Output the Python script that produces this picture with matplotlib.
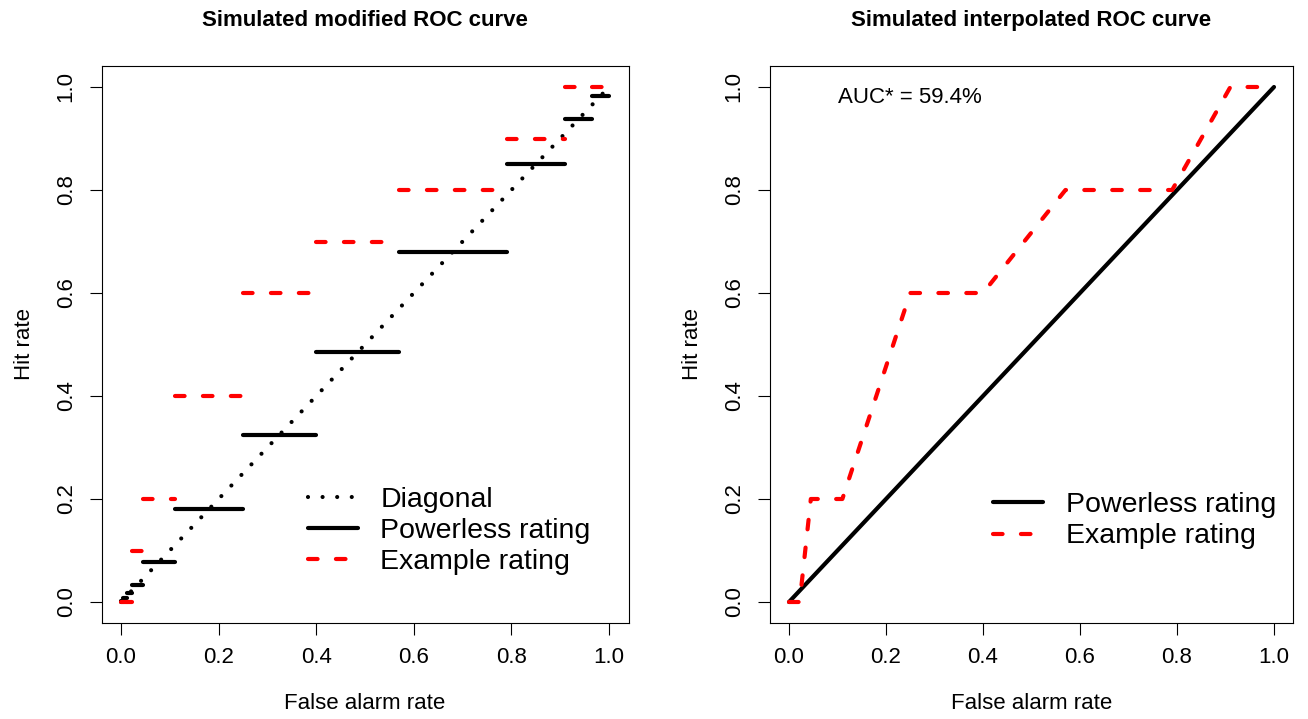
import matplotlib
matplotlib.use("Agg")
import matplotlib.pyplot as plt
from matplotlib.lines import Line2D

plt.rcParams['font.family'] = ['Liberation Sans', 'DejaVu Sans']

# ---- data ----
# cumulative false alarm rate at class boundaries
far_bounds = [0.0, 0.005, 0.012, 0.022, 0.045, 0.11, 0.25, 0.40, 0.57, 0.79, 0.91, 0.965, 1.0]
# modified ROC: hit-rate level per class (one per interval)
powerless_mod_hit = [0.0025, 0.0085, 0.017, 0.0335, 0.0775, 0.18, 0.325, 0.485, 0.68, 0.85, 0.9375, 0.9825]
example_mod_hit = [0.0, 0.0, 0.0, 0.1, 0.2, 0.4, 0.6, 0.7, 0.8, 0.9, 1.0, 1.0]
# interpolated ROC: cumulative hit rate at class boundaries
example_hit_bounds = [0.0, 0.0, 0.0, 0.0, 0.2, 0.2, 0.6, 0.6, 0.8, 0.8, 1.0, 1.0, 1.0]
powerless_hit_bounds = [0.0, 1.0]
powerless_far_bounds = [0.0, 1.0]
auc_text = "AUC* = 59.4%"
ticks = [0.0, 0.2, 0.4, 0.6, 0.8, 1.0]
tick_labels = ["0.0", "0.2", "0.4", "0.6", "0.8", "1.0"]

W, H = 1308, 719
fig = plt.figure(figsize=(W / 100, H / 100), dpi=100)

def px_axes(x0, x1, y0, y1):
    return fig.add_axes([x0 / W, 1 - y1 / H, (x1 - x0) / W, (y1 - y0) / H])

ax1 = px_axes(101.5, 628.5, 66.4, 622.6)
ax2 = px_axes(769.6, 1293.4, 66.4, 622.6)

LW = 3.0
dot_style = (0, (0.001, 3.5))
dash_style = (0, (2.3, 4.4))

for ax in (ax1, ax2):
    ax.set_xlim(-0.04, 1.04)
    ax.set_ylim(-0.04, 1.04)
    ax.set_xticks(ticks)
    ax.set_xticklabels(tick_labels)
    ax.set_yticks(ticks)
    ax.set_yticklabels(tick_labels, rotation=90, va='center')
    ax.tick_params(direction='out', length=8.4, width=0.8, labelsize=16, pad=9.5, colors='black')
    for s in ax.spines.values():
        s.set_linewidth(0.8)
        s.set_color('black')
    ax.set_xlabel("False alarm rate", fontsize=16, labelpad=18)
    ax.set_ylabel("Hit rate", fontsize=16, labelpad=15)

# ---- left: modified ROC ----
ax1.plot([0, 1], [0, 1], color='black', lw=LW, linestyle=dot_style,
         dash_capstyle='round', solid_capstyle='round')
for i in range(len(powerless_mod_hit)):
    ax1.plot([far_bounds[i], far_bounds[i + 1]], [powerless_mod_hit[i]] * 2,
             color='black', lw=LW, solid_capstyle='round')
for i in range(len(example_mod_hit)):
    ax1.plot([far_bounds[i], far_bounds[i + 1]], [example_mod_hit[i]] * 2,
             color='red', lw=LW, linestyle=dash_style, dash_capstyle='round')
ax1.set_title("Simulated modified ROC curve", fontsize=16, fontweight='bold', pad=29)

h1 = [Line2D([], [], color='black', lw=LW, linestyle=dot_style, dash_capstyle='round'),
      Line2D([], [], color='black', lw=LW, solid_capstyle='round'),
      Line2D([], [], color='red', lw=LW, linestyle=dash_style, dash_capstyle='round')]
ax1.legend(h1, ["Diagonal", "Powerless rating", "Example rating"], frameon=False,
           fontsize=20.5, loc='lower left', bbox_to_anchor=(0.37, 0.0644),
           handlelength=1.75, handletextpad=0.8, labelspacing=0.185, borderaxespad=0)

# ---- right: interpolated ROC ----
ax2.plot(powerless_far_bounds, powerless_hit_bounds, color='black', lw=LW, solid_capstyle='round')
ax2.plot(far_bounds, example_hit_bounds, color='red', lw=LW, linestyle=dash_style,
         dash_capstyle='round')
ax2.text(0.25, 0.98, auc_text, fontsize=16, ha='center', va='center')
ax2.set_title("Simulated interpolated ROC curve", fontsize=16, fontweight='bold', pad=29)

h2 = [Line2D([], [], color='black', lw=LW, solid_capstyle='round'),
      Line2D([], [], color='red', lw=LW, linestyle=dash_style, dash_capstyle='round')]
ax2.legend(h2, ["Powerless rating", "Example rating"], frameon=False,
           fontsize=20.5, loc='lower left', bbox_to_anchor=(0.405, 0.111),
           handlelength=1.75, handletextpad=0.8, labelspacing=0.185, borderaxespad=0)

fig.savefig("out.png", dpi=100)
